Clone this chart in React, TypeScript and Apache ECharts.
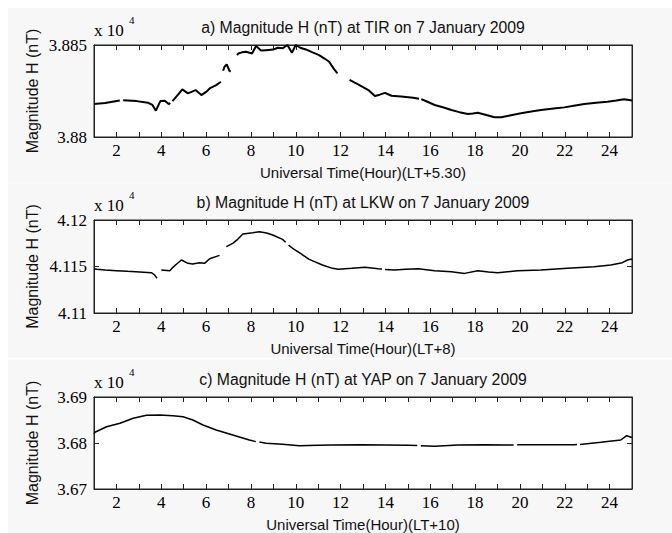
import React, { useEffect, useRef } from "react";
import * as echarts from "echarts";

// ---- Data (nT), hours in UT; null marks a gap in the recorded trace ----
const tirHours = [1.0, 1.5, 2.08, 2.15, 2.2, 2.3, 2.9, 3.41, 3.6, 3.76, 3.96, 4.16, 4.33, 4.4, 4.45, 4.5, 4.75, 4.94, 5.19, 5.35, 5.53, 5.79, 6.0, 6.16, 6.45, 6.6, 6.66, 6.71, 6.76, 6.82, 6.92, 7.04, 7.1, 7.2, 7.38, 7.44, 7.6, 7.78, 8.05, 8.23, 8.45, 8.67, 9.0, 9.2, 9.41, 9.63, 9.83, 10.0, 10.2, 10.45, 10.75, 11.04, 11.3, 11.49, 11.7, 11.86, 12.1, 12.4, 12.8, 13.24, 13.53, 13.75, 13.98, 14.27, 14.7, 15.24, 15.5, 15.55, 15.6, 15.9, 16.2, 16.6, 16.94, 17.3, 17.68, 17.9, 18.12, 18.5, 18.87, 19.16, 19.6, 20.05, 20.5, 20.94, 21.5, 21.98, 22.4, 22.87, 23.4, 23.9, 24.3, 24.64, 25.0];
const tirValues = [38818.0, 38818.5, 38819.7, 38819.8, null, 38820.0, 38819.5, 38818.6, 38817.5, 38814.3, 38819.5, 38819.7, 38817.9, 38818.5, null, 38819.5, 38823.0, 38825.9, 38823.7, 38824.5, 38825.5, 38822.8, 38824.5, 38826.4, 38828.2, 38829.5, 38830.0, null, 38836.0, 38838.2, 38839.5, 38836.0, 38835.5, null, 38844.5, 38845.4, 38846.0, 38846.3, 38845.4, 38849.4, 38847.0, 38847.2, 38847.5, 38848.5, 38848.2, 38850.0, 38845.8, 38850.0, 38848.5, 38847.6, 38846.0, 38844.5, 38842.5, 38840.9, 38837.0, 38834.6, null, 38831.0, 38828.5, 38825.5, 38822.3, 38823.0, 38824.0, 38822.4, 38822.0, 38821.3, 38820.8, null, 38820.6, 38819.0, 38817.4, 38816.0, 38814.7, 38813.5, 38812.5, 38812.8, 38813.2, 38812.0, 38810.7, 38810.7, 38811.8, 38812.9, 38813.8, 38814.7, 38815.5, 38816.1, 38817.0, 38817.9, 38818.6, 38819.2, 38819.8, 38820.5, 38819.8];

const lkwHours = [1.0, 1.12, 1.5, 2.0, 2.5, 3.04, 3.56, 3.7, 3.81, 3.9, 4.0, 4.38, 4.52, 4.7, 4.9, 5.19, 5.4, 5.71, 5.93, 6.16, 6.6, 6.75, 6.9, 7.19, 7.41, 7.64, 8.08, 8.38, 8.7, 8.97, 9.41, 9.55, 9.6, 9.68, 9.86, 10.16, 10.6, 11.19, 11.64, 11.9, 12.5, 13.09, 13.68, 13.85, 13.9, 13.98, 14.42, 14.9, 15.46, 16.2, 16.94, 17.53, 18.12, 18.6, 19.01, 19.9, 20.94, 22.12, 23.31, 24.05, 24.57, 24.8, 25.0];
const lkwValues = [41147.5, 41147.0, 41146.2, 41145.5, 41144.8, 41144.1, 41143.3, 41141.0, 41137.3, null, 41146.2, 41145.5, 41149.1, 41153.0, 41157.0, 41153.4, 41152.7, 41154.1, 41153.4, 41158.4, 41162.0, null, 41171.3, 41174.9, 41179.2, 41184.9, 41186.3, 41187.4, 41186.0, 41183.9, 41179.2, 41176.0, null, 41173.0, 41169.6, 41164.8, 41157.7, 41151.6, 41148.0, 41147.0, 41148.0, 41149.1, 41147.6, 41147.2, null, 41146.8, 41146.2, 41147.0, 41147.6, 41145.5, 41144.4, 41142.6, 41145.5, 41144.0, 41143.3, 41145.5, 41146.2, 41148.0, 41149.8, 41151.6, 41154.1, 41157.0, 41158.0];

const yapHours = [1.0, 1.04, 1.56, 2.16, 2.75, 3.34, 3.93, 4.52, 4.97, 5.41, 5.86, 6.45, 7.19, 7.93, 8.22, 8.3, 8.38, 8.68, 9.41, 10.16, 11.0, 11.64, 12.94, 13.98, 15.01, 15.42, 15.5, 15.58, 16.2, 17.24, 18.42, 19.46, 19.72, 19.8, 19.88, 20.94, 22.42, 22.55, 22.6, 22.68, 23.61, 24.5, 24.76, 25.0];
const yapValues = [36820.0, 36823.3, 36835.4, 36842.8, 36853.7, 36860.2, 36860.9, 36859.4, 36857.2, 36850.0, 36839.1, 36828.3, 36817.4, 36806.5, 36803.0, null, 36802.0, 36799.3, 36797.1, 36794.1, 36795.0, 36795.7, 36796.4, 36795.7, 36794.9, 36794.5, null, 36794.0, 36792.8, 36795.7, 36796.4, 36795.7, 36795.8, null, 36796.0, 36796.4, 36796.4, 36796.6, null, 36797.0, 36801.5, 36806.5, 36815.9, 36812.0];

// Axis ranges (nT) and labels
const xTickHours = [2, 4, 6, 8, 10, 12, 14, 16, 18, 20, 22, 24];
const panelTitles = [
  "a) Magnitude H (nT) at TIR on 7 January 2009",
  "b) Magnitude H (nT) at LKW on 7 January 2009",
  "c) Magnitude H (nT) at YAP on 7 January 2009",
];
const xAxisNames = [
  "Universal Time(Hour)(LT+5.30)",
  "Universal Time(Hour)(LT+8)",
  "Universal Time(Hour)(LT+10)",
];
const yAxisName = "Magnitude H (nT)";
const yMins = [38800, 41100, 36700];
const yMaxs = [38850, 41200, 36900];
const yIntervals = [50, 50, 100];

const SERIF = "Liberation Serif, Times New Roman, serif";
const SANS = "Liberation Sans, Arial, sans-serif";

export default function App() {
  const ref = useRef<HTMLDivElement>(null);

  useEffect(() => {
    if (!ref.current) return;
    const chart = echarts.init(ref.current, undefined, { renderer: "svg" });

    const layout = [
      { top: 45, height: 92, lw: 2 },
      { top: 220, height: 93, lw: 1.5 },
      { top: 397, height: 92, lw: 1.5 },
    ];
    const left = 94;
    const width = 538;
    const hours = [tirHours, lkwHours, yapHours];
    const values = [tirValues, lkwValues, yapValues];

    const grid: any[] = [];
    const xAxis: any[] = [];
    const yAxis: any[] = [];
    const series: any[] = [];
    const graphic: any[] = [
      { type: "rect", silent: true, shape: { x: 0, y: 0, width: 672, height: 8 }, style: { fill: "#ffffff" } },
      { type: "rect", silent: true, shape: { x: 0, y: 0, width: 8, height: 533 }, style: { fill: "#ffffff" } },
      { type: "rect", silent: true, shape: { x: 8, y: 358, width: 664, height: 1.5 }, style: { fill: "#ffffff" } },
      { type: "rect", silent: true, shape: { x: 8, y: 182.5, width: 664, height: 1 }, style: { fill: "#fcfcfc" } },
    ];

    const tickStyle = { show: true, inside: true, length: 5, lineStyle: { color: "#222", width: 1 } };

    layout.forEach((L, i) => {
      grid.push({
        left, top: L.top, width, height: L.height,
        show: true, backgroundColor: "#ffffff", borderColor: "#222", borderWidth: 1,
      });
      xAxis.push({
        type: "value", gridIndex: i, position: "bottom", min: 1, max: 25, interval: 1,
        axisLine: { show: true, lineStyle: { color: "#222", width: 1 } },
        axisTick: tickStyle,
        splitLine: { show: false },
        axisLabel: {
          show: true, margin: 5, fontFamily: SERIF, fontSize: 17, color: "#000",
          formatter: (v: number) => (xTickHours.includes(v) ? String(v) : ""),
        },
      });
      xAxis.push({
        type: "value", gridIndex: i, position: "top", min: 1, max: 25, interval: 1,
        axisLine: { show: true, lineStyle: { color: "#222", width: 1 } },
        axisTick: tickStyle, splitLine: { show: false }, axisLabel: { show: false },
      });
      yAxis.push({
        type: "value", gridIndex: i, position: "left",
        min: yMins[i], max: yMaxs[i], interval: yIntervals[i],
        axisLine: { show: true, lineStyle: { color: "#222", width: 1 } },
        axisTick: tickStyle, splitLine: { show: false },
        axisLabel: {
          show: true, margin: 7, fontFamily: SERIF, fontSize: 17, color: "#000",
          formatter: (v: number) => parseFloat((v / 1e4).toFixed(4)).toString(),
        },
      });
      yAxis.push({
        type: "value", gridIndex: i, position: "right",
        min: yMins[i], max: yMaxs[i], interval: yIntervals[i],
        axisLine: { show: true, lineStyle: { color: "#222", width: 1 } },
        axisTick: tickStyle, splitLine: { show: false }, axisLabel: { show: false },
      });
      series.push({
        type: "line", xAxisIndex: 2 * i, yAxisIndex: 2 * i,
        data: hours[i].map((h, k) => [h, values[i][k] == null ? "-" : values[i][k]]),
        showSymbol: false, connectNulls: false, silent: true,
        lineStyle: { color: "#000", width: L.lw },
      });

      const cx = left + width / 2;
      graphic.push({
        type: "text", silent: true, x: cx, y: L.top - 18,
        style: { text: panelTitles[i], fontFamily: SANS, fontSize: 15.8, fill: "#111", textAlign: "center", textVerticalAlign: "middle" },
      });
      graphic.push({
        type: "text", silent: true, x: cx, y: L.top + L.height + 35,
        style: { text: xAxisNames[i], fontFamily: SANS, fontSize: 15, fill: "#111", textAlign: "center", textVerticalAlign: "middle" },
      });
      graphic.push({
        type: "text", silent: true, x: 32, y: L.top + L.height / 2, rotation: Math.PI / 2,
        style: { text: yAxisName, fontFamily: SANS, fontSize: 16, fill: "#111", textAlign: "center", textVerticalAlign: "middle" },
      });
      graphic.push({
        type: "text", silent: true, x: 94, y: L.top - 15,
        style: { text: "x 10", fontFamily: SERIF, fontSize: 17, fill: "#000", textAlign: "left", textVerticalAlign: "middle" },
      });
      graphic.push({
        type: "text", silent: true, x: 129, y: L.top - 25,
        style: { text: "4", fontFamily: SERIF, fontSize: 11, fill: "#000", textAlign: "left", textVerticalAlign: "middle" },
      });
    });

    chart.setOption({
      animation: false,
      backgroundColor: "#f7f7f7",
      grid, xAxis, yAxis, series, graphic,
    });

    return () => chart.dispose();
  }, []);

  return <div ref={ref} style={{ position: "absolute", left: 0, top: 0, width: 672, height: 533 }} />;
}
